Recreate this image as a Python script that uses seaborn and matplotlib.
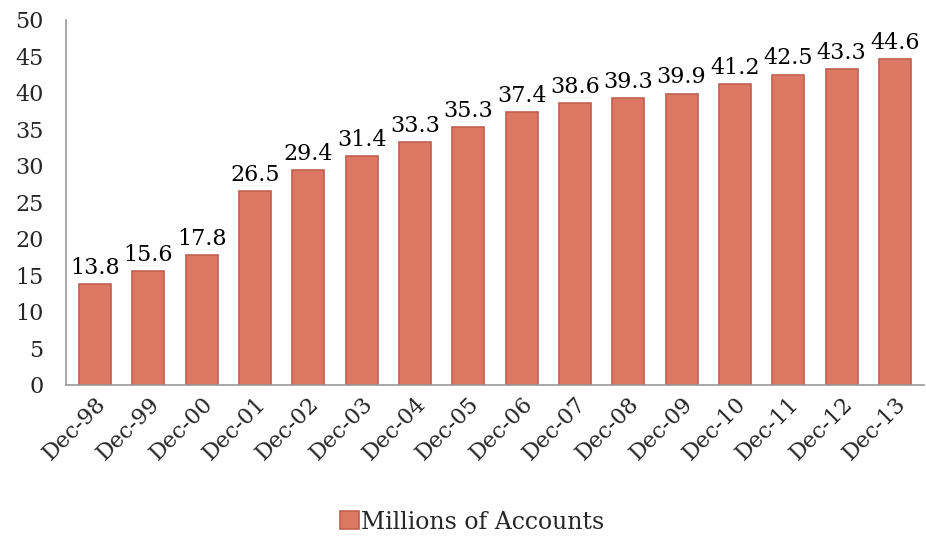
import matplotlib
matplotlib.use("Agg")
import matplotlib.pyplot as plt
import seaborn as sns
import pandas as pd

categories = ["Dec-98", "Dec-99", "Dec-00", "Dec-01", "Dec-02", "Dec-03", "Dec-04", "Dec-05",
              "Dec-06", "Dec-07", "Dec-08", "Dec-09", "Dec-10", "Dec-11", "Dec-12", "Dec-13"]
values = [13.8, 15.6, 17.8, 26.5, 29.4, 31.4, 33.3, 35.3, 37.4, 38.6, 39.3, 39.9, 41.2, 42.5, 43.3, 44.6]
series_name = "Millions of Accounts"
yticks = [0, 5, 10, 15, 20, 25, 30, 35, 40, 45, 50]

sns.set_style("white")
plt.rcParams['font.family'] = ['DejaVu Serif']

df = pd.DataFrame({"cat": categories, "val": values})

fig = plt.figure(figsize=(9.26, 5.36), dpi=100)
ax = fig.add_axes([0.071, 0.282, 0.927, 0.681])

bar_color = "#DD7864"
edge_color = "#C0614F"
sns.barplot(data=df, x="cat", y="val", color=bar_color, width=0.6, ax=ax,
            edgecolor=edge_color, linewidth=1.2, saturation=1, label=series_name)

for i, v in enumerate(values):
    ax.text(i, v + 0.7, f"{v:.1f}", ha="center", va="bottom", fontsize=16, color="black")

ax.set_ylim(0, 50)
ax.set_yticks(yticks)
ax.set_yticklabels([str(t) for t in yticks], fontsize=16)
ax.set_xlim(-0.55, len(categories) - 0.45)
ax.set_xlabel("")
ax.set_ylabel("")
ax.set_xticks(range(len(categories)))
ax.set_xticklabels(categories, rotation=45, ha="right", rotation_mode="anchor", fontsize=16)
ax.tick_params(axis="y", length=0, pad=16)
ax.tick_params(axis="x", length=0, pad=6)

for s in ["top", "right"]:
    ax.spines[s].set_visible(False)
for s in ["left", "bottom"]:
    ax.spines[s].set_color("#999999")
    ax.spines[s].set_linewidth(1.2)

leg = ax.legend(loc="center", bbox_to_anchor=(0.51, 0.026), bbox_transform=fig.transFigure,
                frameon=False, fontsize=17, handlelength=0.8, handleheight=0.8, handletextpad=0.1,
                borderpad=0)

fig.savefig("out.png", dpi=100)
